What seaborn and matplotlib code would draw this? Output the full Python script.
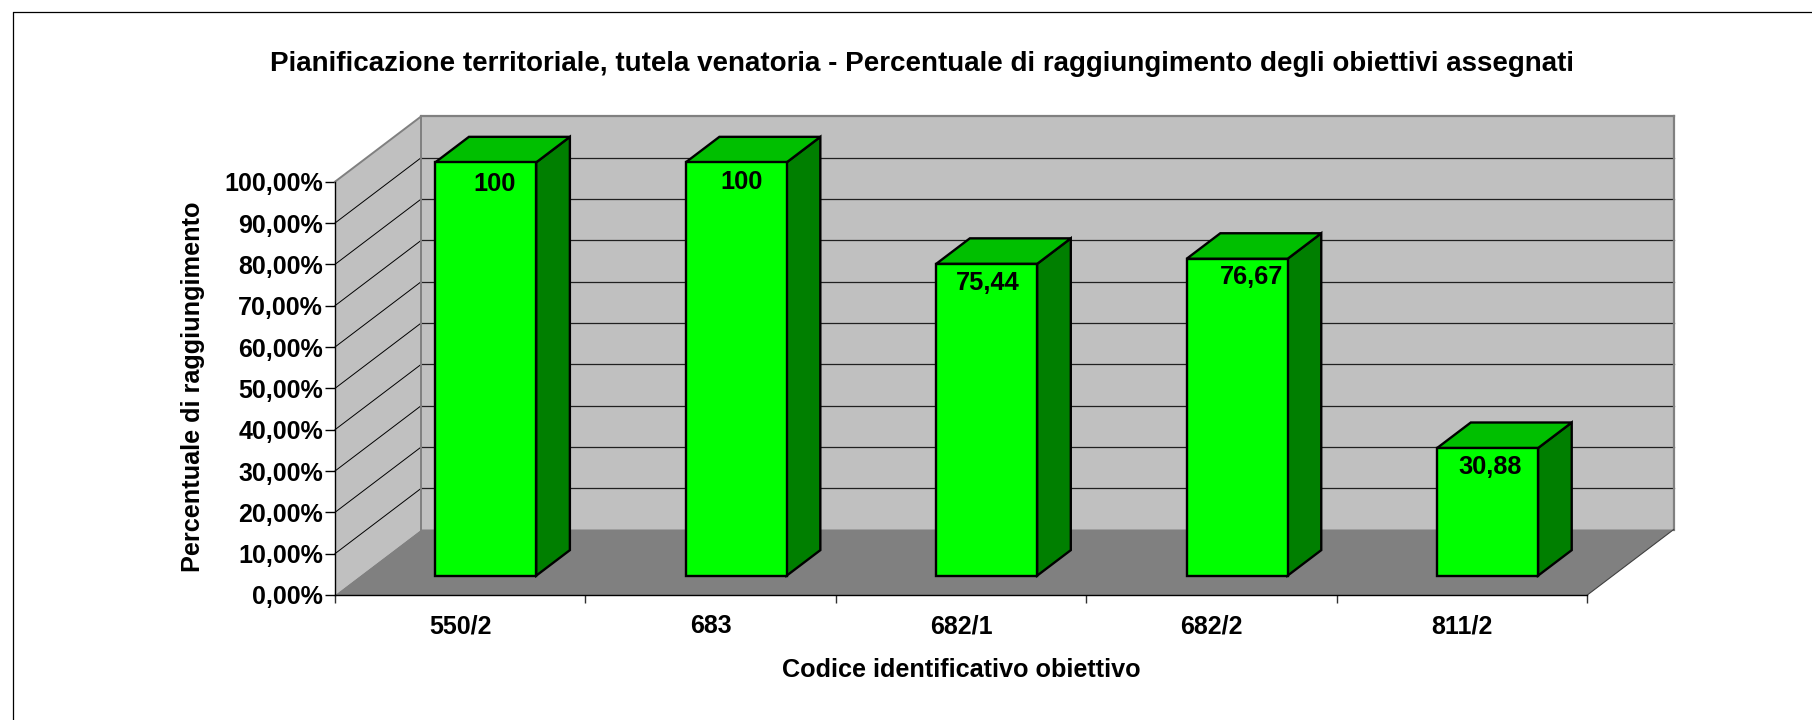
import matplotlib
matplotlib.use('Agg')
import matplotlib.pyplot as plt
from matplotlib.lines import Line2D
import pandas as pd
import seaborn as sns

# dati
codici = ['550/2', '683', '682/1', '682/2', '811/2']
valori = [100, 100, 75.44, 76.67, 30.88]
etichette = ['100', '100', '75,44', '76,67', '30,88']
tick_y = [0, 10, 20, 30, 40, 50, 60, 70, 80, 90, 100]
tick_y_labels = ['0,00%', '10,00%', '20,00%', '30,00%', '40,00%', '50,00%',
                 '60,00%', '70,00%', '80,00%', '90,00%', '100,00%']
# spostamento delle etichette rispetto al centro della barra (pixel)
label_dx = [9, 5, 1.5, 14, 2]
label_dy = [-22, -20, -19, -18, -19]

sns.set_theme(style='white')
plt.rcParams['font.family'] = ['Liberation Sans', 'DejaVu Sans']
plt.rcParams['font.weight'] = 'bold'

W, H = 1812, 720
fig = plt.figure(figsize=(W / 100, H / 100), dpi=100, facecolor='white')
x0, x1, y0, y100 = 335, 1587.3, 595, 181.7
ax = fig.add_axes([x0 / W, 1 - y0 / H, (x1 - x0) / W, (y0 - y100) / H])
ax.patch.set_visible(False)

# profondita' del grafico 3D in unita' dati
DX = 86.4 / (x1 - x0) * 5
DY = 65.5 / (y0 - y100) * 100


def proj(x, y, d):
    return x + d * DX, y + d * DY


def faccia(punti, color, z, **kw):
    xs = [proj(*p)[0] for p in punti]
    ys = [proj(*p)[1] for p in punti]
    ax.fill(xs, ys, facecolor=color, zorder=z, clip_on=False, **kw)


def linea(p1, p2, color, lw, z=2):
    a, b = proj(*p1), proj(*p2)
    ax.plot([a[0], b[0]], [a[1], b[1]], color=color, lw=lw, zorder=z,
            clip_on=False, solid_capstyle='projecting')


L, R = -0.5, 4.5

df = pd.DataFrame({'codice': codici, 'valore': valori})
sns.barplot(data=df, x='codice', y='valore', order=codici, color='#00FF00',
            saturation=1, width=0.403, edgecolor='black', linewidth=1.7,
            errorbar=None, ax=ax)
barre = list(ax.containers[0])

# pareti e pavimento
faccia([(L, 0, 1), (R, 0, 1), (R, 100, 1), (L, 100, 1)], '#C0C0C0', 1, lw=0)
faccia([(L, 0, 0), (L, 0, 1), (L, 100, 1), (L, 100, 0)], '#C0C0C0', 1, lw=0)
faccia([(L, 0, 0), (R, 0, 0), (R, 0, 1), (L, 0, 1)], '#808080', 1, lw=0)

# griglia
for t in tick_y[1:-1]:
    linea((L, t, 1), (R, t, 1), '#202020', 0.9)
    linea((L, t, 0), (L, t, 1), '#000000', 0.7)
linea((L, 100, 0), (L, 100, 1), '#808080', 1.4)
linea((L, 100, 1), (R, 100, 1), '#808080', 1.6)
linea((L, 0, 1), (L, 100, 1), '#808080', 1.4)
linea((R, 0, 1), (R, 100, 1), '#808080', 1.6)
linea((R, 0, 0), (R, 0, 1), '#404040', 0.8)

# le barre stanno dentro il pavimento: d_a fronte, d_b retro
d_a, d_b = 0.295, 0.685
off_x, off_y = proj(0, 0, d_a)
for p, lab, dx, dy in zip(barre, etichette, label_dx, label_dy):
    xa, xb, h = p.get_x(), p.get_x() + p.get_width(), p.get_height()
    p.set_x(xa + off_x)
    p.set_y(off_y)
    p.set_zorder(5)
    p.set_clip_on(False)
    faccia([(xb, 0, d_a), (xb, 0, d_b), (xb, h, d_b), (xb, h, d_a)], '#007F00', 4,
           edgecolor='black', lw=1.7, joinstyle='miter')
    faccia([(xa, h, d_a), (xb, h, d_a), (xb, h, d_b), (xa, h, d_b)], '#00BF00', 4,
           edgecolor='black', lw=1.7, joinstyle='miter')
    ax.annotate(lab, ((xa + xb) / 2 + off_x, off_y + h), xytext=(dx, dy),
                textcoords='offset pixels', ha='center', va='center',
                fontsize=18.3, fontweight='bold', color='black', zorder=6,
                annotation_clip=False)

ax.set_xlim(L, R)
ax.set_ylim(0, 100)
sns.despine(ax=ax, top=True, right=True)
for s in ['left', 'bottom']:
    ax.spines[s].set_color('black')
    ax.spines[s].set_linewidth(1.0)
    ax.spines[s].set_zorder(3)

ax.set_yticks(tick_y)
ax.set_yticklabels(tick_y_labels)
ax.set_xticks(range(len(codici)))
ax.set_xticklabels(codici)
ax.set_xticks([L + i for i in range(len(codici) + 1)], minor=True)
ax.tick_params(axis='x', which='major', length=0, pad=14, labelsize=18,
               labelcolor='black')
ax.tick_params(axis='x', which='minor', length=6, width=1, color='#303030',
               bottom=True)
ax.tick_params(axis='y', which='major', length=7, width=1, color='black', pad=1.5,
               labelsize=18, labelcolor='black', left=True)
for t in ax.get_xticklabels() + ax.get_yticklabels():
    t.set_fontweight('bold')

ax.set_xlabel('Codice identificativo obiettivo', fontsize=18.2, fontweight='bold',
              color='black', va='center')
ax.xaxis.set_label_coords(0.5, -(670 - y0) / (y0 - y100))
ax.set_ylabel('Percentuale di raggiungimento', fontsize=18.2, fontweight='bold',
              color='black', va='center')
ax.yaxis.set_label_coords((193 - x0) / (x1 - x0), 0.504)

fig.text(922 / W, 1 - 64 / H,
         'Pianificazione territoriale, tutela venatoria - Percentuale di '
         'raggiungimento degli obiettivi assegnati',
         ha='center', va='center', fontsize=19.95, fontweight='bold', color='black')

# cornice (solo lati sinistro e superiore visibili)
fig.add_artist(Line2D([12.5 / W, 12.5 / W], [0, 1 - 12 / H], color='black', lw=0.9))
fig.add_artist(Line2D([12.5 / W, 1], [1 - 12 / H, 1 - 12 / H], color='black', lw=0.9))

fig.savefig('out.png', dpi=100)
